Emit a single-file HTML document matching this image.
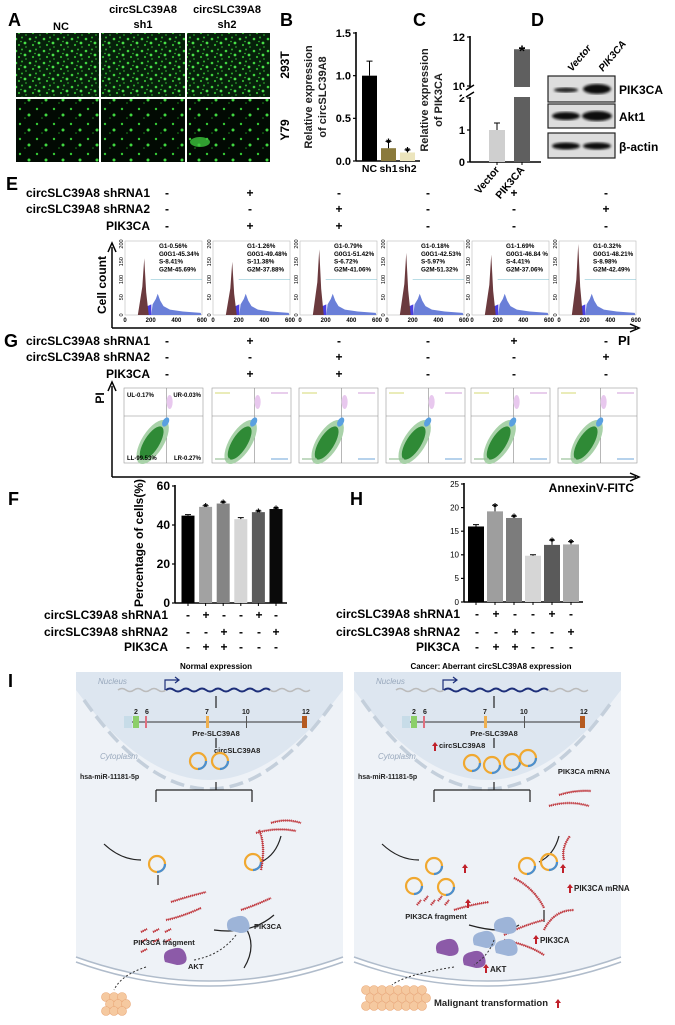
<!DOCTYPE html>
<html><head><meta charset="utf-8"><style>
html,body{margin:0;padding:0;background:#fff;}
svg{display:block;font-family:"Liberation Sans",Arial,sans-serif;}
.b{font-weight:bold;}
</style></head><body>
<svg id="fig" width="675" height="1025" viewBox="0 0 675 1025" xmlns="http://www.w3.org/2000/svg">
<defs>
<pattern id="fl1" width="14" height="12" patternUnits="userSpaceOnUse">
<rect width="14" height="12" fill="#06200a"/>
<circle cx="2" cy="3" r="1.3" fill="#3fd13f"/><circle cx="8" cy="1.5" r="1" fill="#2fb02f"/>
<circle cx="11" cy="7" r="1.4" fill="#48e048"/><circle cx="5" cy="9" r="1.1" fill="#30b530"/>
<circle cx="12" cy="11" r="0.9" fill="#2a9a2a"/><circle cx="7" cy="5.5" r="0.8" fill="#35c035"/>
</pattern>
<pattern id="fl2" width="17" height="15" patternUnits="userSpaceOnUse">
<rect width="17" height="15" fill="#020a03"/>
<circle cx="3" cy="4" r="1.2" fill="#35c835"/><circle cx="12" cy="10" r="1.5" fill="#40d840"/>
<circle cx="8" cy="13" r="0.8" fill="#1f8a1f"/>
</pattern>
<filter id="bl"><feGaussianBlur stdDeviation="1.2"/></filter>
</defs>

<g>
<text x="8" y="26" font-size="18" class="b">A</text>
<text x="61" y="30" font-size="11" class="b" text-anchor="middle">NC</text>
<text x="143" y="13" font-size="11" class="b" text-anchor="middle">circSLC39A8</text>
<text x="143" y="28" font-size="11" class="b" text-anchor="middle">sh1</text>
<text x="227" y="13" font-size="11" class="b" text-anchor="middle">circSLC39A8</text>
<text x="227" y="28" font-size="11" class="b" text-anchor="middle">sh2</text>
<rect x="16" y="33" width="83" height="64" fill="url(#fl1)"/>
<rect x="101" y="33" width="84" height="64" fill="url(#fl1)"/>
<rect x="187" y="33" width="83" height="64" fill="url(#fl1)"/>
<rect x="16" y="99" width="83" height="63" fill="url(#fl2)"/>
<rect x="101" y="99" width="84" height="63" fill="url(#fl2)"/>
<rect x="187" y="99" width="83" height="63" fill="url(#fl2)"/>
<ellipse cx="200" cy="142" rx="10" ry="5" fill="#3cc43c" opacity="0.8"/>
<text transform="translate(289,65) rotate(-90)" font-size="12" class="b" text-anchor="middle">293T</text>
<text transform="translate(289,130) rotate(-90)" font-size="12" class="b" text-anchor="middle">Y79</text>
</g>

<text x="280" y="26" font-size="18" class="b">B</text>
<text x="312" y="97" transform="rotate(-90 312 97)" font-size="11" class="b" text-anchor="middle" fill="#222">Relative expression</text>
<text x="326" y="97" transform="rotate(-90 326 97)" font-size="11" class="b" text-anchor="middle" fill="#222">of circSLC39A8</text>
<g id="chartB"></g>

<text x="413" y="26" font-size="18" class="b">C</text>
<text x="428" y="100" transform="rotate(-90 428 100)" font-size="11" class="b" text-anchor="middle" fill="#222">Relative expression</text>
<text x="442" y="100" transform="rotate(-90 442 100)" font-size="11" class="b" text-anchor="middle" fill="#222">of PIK3CA</text>
<g id="chartC"></g>

<g>
<text x="531" y="26" font-size="18" class="b">D</text>
<text transform="translate(572,72) rotate(-50)" font-size="10" class="b" font-style="italic">Vector</text>
<text transform="translate(603,72) rotate(-50)" font-size="10" class="b" font-style="italic">PIK3CA</text>
<rect x="548" y="76" width="67" height="26" fill="#ddd" stroke="#222" stroke-width="1.2"/>
<ellipse cx="566" cy="90" rx="12" ry="2.5" fill="#222" filter="url(#bl)"/>
<ellipse cx="597" cy="89" rx="14" ry="5" fill="#111" filter="url(#bl)"/>
<rect x="548" y="104" width="67" height="24" fill="#ddd" stroke="#222" stroke-width="1.2"/>
<ellipse cx="566" cy="116" rx="14" ry="4" fill="#111" filter="url(#bl)"/>
<ellipse cx="597" cy="116" rx="15" ry="5" fill="#111" filter="url(#bl)"/>
<rect x="548" y="133" width="67" height="25" fill="#ddd" stroke="#222" stroke-width="1.2"/>
<ellipse cx="566" cy="146" rx="14" ry="3.5" fill="#111" filter="url(#bl)"/>
<ellipse cx="597" cy="146" rx="14" ry="3.5" fill="#111" filter="url(#bl)"/>
<text x="619" y="94" font-size="12" class="b">PIK3CA</text>
<text x="619" y="121" font-size="12" class="b">Akt1</text>
<text x="619" y="151" font-size="12" class="b">β-actin</text>
</g>

<text x="6" y="190" font-size="18" class="b">E</text>
<g id="rowsE"></g>
<g id="hists"></g>
<text transform="translate(106,285) rotate(-90)" font-size="12" class="b" text-anchor="middle">Cell count</text>
<path d="M112,328 V247 M108,252 L112,243 L116,252" stroke="#000" stroke-width="1.5" fill="none"/>
<path d="M112,328 H636 M630,324 L639,328 L630,332" stroke="#000" stroke-width="1.5" fill="none"/>
<text x="618" y="345" font-size="13" class="b">PI</text>

<text x="4" y="347" font-size="18" class="b">G</text>
<g id="rowsG"></g>
<g id="dots"></g>
<text transform="translate(104,398) rotate(-90)" font-size="12" class="b" text-anchor="middle">PI</text>
<path d="M112,477 V386 M108,391 L112,382 L116,391" stroke="#000" stroke-width="1.5" fill="none"/>
<path d="M112,477 H636 M630,473 L639,477 L630,481" stroke="#000" stroke-width="1.5" fill="none"/>
<text x="634" y="492" font-size="12" class="b" text-anchor="end">AnnexinV-FITC</text>

<text x="8" y="505" font-size="18" class="b">F</text>
<text x="143" y="543" transform="rotate(-90 143 543)" font-size="12" class="b" text-anchor="middle">Percentage of cells(%)</text>
<g id="chartF"></g>
<g id="rowsF"></g>
<text x="350" y="505" font-size="18" class="b">H</text>
<g id="chartH"></g>
<g id="rowsH"></g>

<text x="8" y="687" font-size="18" class="b">I</text>
<text x="216" y="669" font-size="8" class="b" text-anchor="middle">Normal expression</text>
<text x="491" y="669" font-size="8" class="b" text-anchor="middle">Cancer: Aberrant circSLC39A8 expression</text>
<g id="diag"></g>
</svg>

<script>
const NS='http://www.w3.org/2000/svg';
function mk(parent,tag,attrs,text){const e=document.createElementNS(NS,tag);for(const k in attrs)e.setAttribute(k,attrs[k]);if(text!==undefined)e.textContent=text;parent.appendChild(e);return e;}

const bCats=['NC','sh1','sh2'];
const bValues=[1.0,0.15,0.10];
const bErrors=[0.17,0.08,0.03];
const bTicks=[0,0.5,1.0,1.5];
const bTickLabels=['0.0','0.5','1.0','1.5'];
const bSig=[0,1,1];

const cCats=['Vector','PIK3CA'];
const cValues=[1.0,11.5];
const cErrors=[0.22,0.03];
const cTicks=[0,1,2,10,12];
const cSig=[0,1];

const fValues=[44.8,49.3,51.0,43.0,46.6,48.2];
const fErrors=[0.5,0.6,0.7,0.8,0.6,0.5];
const fTicks=[0,20,40,60];
const fSig=[0,1,1,0,1,1];

const hValues=[16.0,19.2,17.8,9.8,12.1,12.2];
const hErrors=[0.4,1.3,0.4,0.2,1.0,0.6];
const hTicks=[0,5,10,15,20,25];
const hSig=[0,1,1,0,1,1];

const rowNames=['circSLC39A8 shRNA1','circSLC39A8 shRNA2','PIK3CA'];
const shRNA1=['-','+','-','-','+','-'];
const shRNA2=['-','-','+','-','-','+'];
const pik3ca=['-','+','+','-','-','-'];

const histStats=[
['G1-0.56%','G0G1-45.34%','S-8.41%','G2M-45.69%'],
['G1-1.26%','G0G1-49.48%','S-11.38%','G2M-37.88%'],
['G1-0.79%','G0G1-51.42%','S-6.72%','G2M-41.06%'],
['G1-0.18%','G0G1-42.53%','S-5.97%','G2M-51.32%'],
['G1-1.69%','G0G1-46.84 %','S-4.41%','G2M-37.06%'],
['G1-0.32%','G0G1-48.21%','S-8.98%','G2M-42.49%']];
const g1Peak=[160,150,185,175,170,200];

function barChart(g,o){
  const yS=o.yScale;
  mk(g,'line',{x1:o.ax,y1:yS(o.ticks[o.ticks.length-1])-1,x2:o.ax,y2:o.y0,stroke:'#000','stroke-width':1.6});
  mk(g,'line',{x1:o.ax,y1:o.y0,x2:o.xEnd,y2:o.y0,stroke:'#000','stroke-width':1.6});
  o.ticks.forEach((t,i)=>{const y=yS(t);
    mk(g,'line',{x1:o.ax-3,y1:y,x2:o.ax,y2:y,stroke:'#000','stroke-width':1.2});
    const tl=mk(g,'text',{x:o.ax-5,y:y+o.fs*0.35,'font-size':o.fs,'text-anchor':'end','font-weight':o.tb?'bold':'normal'},o.tickLabels?o.tickLabels[i]:String(t));
    
    
  });
  o.values.forEach((v,i)=>{
    const cx=o.bx+i*o.step, x=cx-o.bw/2, y=yS(v);
    const r=mk(g,'rect',{x:x,y:y,width:o.bw,height:o.y0-y,fill:o.colors[i]});
    
    
    const ey=yS(v+o.errors[i]);
    mk(g,'path',{d:`M${cx},${y} V${ey} M${cx-3},${ey} H${cx+3}`,stroke:o.errColor||'#000','stroke-width':1,fill:'none'});
    if(o.xTicks) mk(g,'line',{x1:cx,y1:o.y0,x2:cx,y2:o.y0+3,stroke:'#000','stroke-width':1});
    if(o.sig[i]){const s=mk(g,'text',{x:cx,y:ey-1+o.starFs*0.55,'font-size':o.starFs,'text-anchor':'middle','font-weight':'bold'},'*');
      
      }
  });
}

barChart(document.getElementById('chartB'),{ax:356,y0:161,xEnd:420,yScale:v=>161-v/1.5*128,ticks:bTicks,tickLabels:bTickLabels,fs:11,tb:true,
  values:bValues,errors:bErrors,colors:['#000','#8a7a3c','#ece5bd'],bx:369.5,step:19,bw:15,sig:bSig,starFs:12});
bCats.forEach((c,i)=>{const t=mk(document.getElementById('chartB'),'text',{x:369.5+i*19,y:172,'font-size':10.5,'text-anchor':'middle','font-weight':'bold'},c);
  
  });

(function(){
  const g=document.getElementById('chartC');
  const yS=v=> v<=2 ? 162-v*32 : 86-(v-10)*24.5;
  barChart(g,{ax:470,y0:162,xEnd:541,yScale:yS,ticks:cTicks,fs:11,tb:true,values:cValues,errors:cErrors,
    colors:['#cfcfcf','#5f5f5f'],bx:497,step:25,bw:16,sig:cSig,starFs:16,xTicks:true});
  mk(g,'rect',{x:462,y:87,width:80,height:10,fill:'#fff'});
  mk(g,'path',{d:'M466,90 L474,85 M466,97 L474,92',stroke:'#000','stroke-width':1.4});
  cCats.forEach((c,i)=>{const t=mk(g,'text',{transform:`translate(${500+i*25},170) rotate(-50)`,'font-size':10.5,'text-anchor':'end','font-weight':'bold'},c);
    
    });
})();

barChart(document.getElementById('chartF'),{ax:175,y0:603,xEnd:287,yScale:v=>603-v/60*117,ticks:fTicks,fs:12,tb:true,
  values:fValues,errors:fErrors,colors:['#000','#a2a2a2','#858585','#d6d6d6','#5c5c5c','#0a0a0a'],bx:188,step:17.6,bw:13,sig:fSig,starFs:11,xTicks:true});
barChart(document.getElementById('chartH'),{ax:464,y0:602,xEnd:583,yScale:v=>602-v/25*118,ticks:hTicks,fs:8,tb:false,
  values:hValues,errors:hErrors,colors:['#000','#9e9e9e','#7c7c7c','#d6d6d6','#5a5a5a','#ababab'],bx:476,step:19,bw:16,sig:hSig,starFs:11,xTicks:true});

function rows(gid,labelX,ys,xs,fs){
  const g=document.getElementById(gid);
  const sets=[shRNA1,shRNA2,pik3ca];
  rowNames.forEach((n,r)=>{
    const t=mk(g,'text',{x:labelX,y:ys[r]+4,'font-size':fs,'text-anchor':'end','font-weight':'bold'},n);
    
    
    sets[r].forEach((s,i)=>{mk(g,'text',{x:xs[i],y:ys[r]+4,'font-size':fs,'text-anchor':'middle','font-weight':'bold'},s);});
  });
}
const bigX=[167,250,339,428,514,606];
rows('rowsE',150,[193,209,226],bigX,12);
rows('rowsG',150,[341,357,374],bigX,12);
rows('rowsF',168,[615,632,647],[188,206,224,241,259,276],12);
rows('rowsH',460,[614,632,647],[477,496,515,533,552,571],12);

const boxX=[125,213,300,387,472,559];
(function(){
  const g=document.getElementById('hists');
  boxX.forEach((bx,i)=>{
    const w=77, top=244, bot=315;
    const sy=v=>bot-v/200*(bot-top), sx=v=>bx+v/600*w;
    const box=mk(g,'rect',{x:bx,y:top-3,width:w,height:bot-top+3,fill:'#fff',stroke:'#bbb','stroke-width':0.6});
    
    
    mk(g,'path',{d:`M${sx(205)},${bot} L${sx(215)},${sy(30)} L${sx(240)},${sy(45)} L${sx(255)},${sy(60)} L${sx(275)},${sy(40)} L${sx(300)},${sy(25)} L${sx(350)},${sy(15)} L${sx(450)},${sy(10)} L${sx(590)},${sy(6)} L${sx(595)},${bot}Z`,fill:'#6a7fd8'});
    mk(g,'path',{d:`M${sx(160)},${bot} L${sx(175)},${sy(25)} L${sx(205)},${sy(30)} L${sx(205)},${bot}Z`,fill:'#4a3fe0'});
    const p=g1Peak[i];
    mk(g,'path',{d:`M${sx(100)},${bot} L${sx(135)},${sy(p*0.5)} L${sx(150)},${sy(p)} L${sx(165)},${sy(p*0.4)} L${sx(185)},${bot}Z`,fill:'#6b3a3e'});
    mk(g,'line',{x1:sx(200),y1:sy(100),x2:sx(600),y2:sy(100),stroke:'#7bc','stroke-width':0.5});
    ['0','200','400','600'].forEach((t,k)=>mk(g,'text',{x:sx(k*200),y:bot+7,'font-size':6,'text-anchor':'middle','font-weight':'bold'},t));
    ['0','50','100','150','200'].forEach((t,k)=>mk(g,'text',{transform:`translate(${bx-2},${sy(k*50)}) rotate(-90)`,'font-size':5.5,'text-anchor':'middle'},t));
    histStats[i].forEach((s,k)=>mk(g,'text',{x:bx+34,y:248+k*7.8,'font-size':6.3,'font-weight':'bold'},s));
  });
})();

(function(){
  const g=document.getElementById('dots');
  boxX.forEach((bx,i)=>{
    const x=bx-1,w=79,top=388,bot=463, vx=x+w*0.54, hy=top+28;
    const box=mk(g,'rect',{x:x,y:top,width:w,height:bot-top,fill:'#fff',stroke:'#999','stroke-width':0.6});
    
    
    mk(g,'line',{x1:vx,y1:top,x2:vx,y2:bot,stroke:'#888','stroke-width':0.6});
    mk(g,'line',{x1:x,y1:hy,x2:x+w,y2:hy,stroke:'#888','stroke-width':0.6});
    mk(g,'ellipse',{cx:vx-14,cy:hy+26,rx:25,ry:11,fill:'#a9d2a9',transform:`rotate(-58 ${vx-14} ${hy+26})`});
    mk(g,'ellipse',{cx:vx-15,cy:hy+27,rx:19,ry:7.5,fill:'#2f8a36',transform:`rotate(-58 ${vx-15} ${hy+27})`});
    mk(g,'ellipse',{cx:vx-1,cy:hy+6,rx:5,ry:3,fill:'#5aa0e0',transform:`rotate(-60 ${vx-1} ${hy+6})`});
    mk(g,'ellipse',{cx:vx+3,cy:top+14,rx:3,ry:7,fill:'#e8c8ee'});
    if(i===0){
      mk(g,'text',{x:x+3,y:top+9,'font-size':6,'font-weight':'bold'},'UL-0.17%');
      mk(g,'text',{x:x+w-2,y:top+9,'font-size':6,'font-weight':'bold','text-anchor':'end'},'UR-0.03%');
      mk(g,'text',{x:x+3,y:bot-3,'font-size':6,'font-weight':'bold'},'LL-99.53%');
      mk(g,'text',{x:x+w-2,y:bot-3,'font-size':6,'font-weight':'bold','text-anchor':'end'},'LR-0.27%');
    } else {
      mk(g,'line',{x1:x+3,y1:top+5,x2:x+18,y2:top+5,stroke:'#dde08a','stroke-width':1.2});
      mk(g,'line',{x1:x+w-20,y1:top+5,x2:x+w-3,y2:top+5,stroke:'#d9b0e0','stroke-width':1.2});
      mk(g,'line',{x1:x+3,y1:bot-4,x2:x+18,y2:bot-4,stroke:'#9ac09a','stroke-width':1.2});
      mk(g,'line',{x1:x+w-20,y1:bot-4,x2:x+w-3,y2:bot-4,stroke:'#8ab8e0','stroke-width':1.2});
    }
  });
})();

(function(){
  const g=document.getElementById('diag');
  function circ(cx,cy,r){mk(g,'circle',{cx:cx,cy:cy,r:r,fill:'none',stroke:'#f0a830','stroke-width':2.2});
    mk(g,'path',{d:`M${cx+r},${cy} A${r},${r} 0 0 1 ${cx},${cy+r}`,fill:'none',stroke:'#4a8fd0','stroke-width':2.2});}
  function rna(d){mk(g,'path',{d:d,fill:'none',stroke:'#c0393f','stroke-width':2.4,'stroke-dasharray':'1 1'});mk(g,'path',{d:d,fill:'none',stroke:'#c0393f','stroke-width':0.8});}
  function arr(d){mk(g,'path',{d:d,fill:'none',stroke:'#222','stroke-width':1.2});}
  function blob(cx,cy,c){mk(g,'path',{d:`M${cx-10},${cy+5} Q${cx-14},${cy-6} ${cx-3},${cy-8} Q${cx+8},${cy-12} ${cx+11},${cy-2} Q${cx+14},${cy+8} ${cx+2},${cy+8} Z`,fill:c});}
  function txt(x,y,s,o){const a=Object.assign({x:x,y:y,'font-size':7.5,'font-weight':'bold',fill:'#222'},o||{});return mk(g,'text',a,s);}
  function upArr(x,y){mk(g,'path',{d:`M${x},${y} v-5 h-2 l3,-4 l3,4 h-2 v5z`,fill:'#c0202a'});}
  [0,278].forEach((dx,p)=>{
    const L=76+dx,R=343+dx,C=(L+R)/2;
    mk(g,'rect',{x:L,y:672,width:R-L,height:353,fill:'#fff'});
    mk(g,'path',{d:`M${L},672 H${R} V957 Q${C},1005 ${L},957 Z`,fill:'#eef2f7'});
    mk(g,'path',{d:`M${L},672 H${R} V690 Q${C},870 ${L},690 Z`,fill:'#dde6f0'});
    mk(g,'path',{d:`M${L+8},700 Q${C},878 ${R-8},700`,fill:'none',stroke:'#c4cfdb','stroke-width':3.5,'stroke-dasharray':'14 6'});
    mk(g,'path',{d:`M${L},957 Q${C},1005 ${R},957`,fill:'none',stroke:'#b0bccb','stroke-width':1.5});
    mk(g,'path',{d:`M${L},962 Q${C},1010 ${R},962`,fill:'none',stroke:'#b0bccb','stroke-width':1.5});
    txt(L+22,684,'Nucleus',{'font-style':'italic',fill:'#98a8bc','font-weight':'normal','font-size':8});
    txt(L+24,759,'Cytoplasm',{'font-style':'italic',fill:'#98a8bc','font-weight':'normal','font-size':8});
    mk(g,'path',{d:`M${L+42},690 q4,-3 8,0 t8,0 t8,0 t8,0 t8,0 t8,0 t8,0 t8,0 t8,0 t8,0 t8,0 t8,0 t8,0 t8,0 t8,0 t8,0 t8,0 t8,0 t8,0 t8,0 t8,0 t8,0 t8,0 t8,0`,fill:'none',stroke:'#bbb','stroke-width':1.5});
    mk(g,'path',{d:`M${L+90},690 q4,-3 8,0 t8,0 t8,0 t8,0 t8,0 t8,0 t8,0 t8,0 t8,0 t8,0 t8,0 t8,0 t8,0`,fill:'none',stroke:'#1d2f7a','stroke-width':2});
    mk(g,'path',{d:`M${L+89},690 V680 H${L+102} M${L+99},677 l4,3 l-4,3`,fill:'none',stroke:'#1d2f7a','stroke-width':1.2});
    arr(`M${L+140},696 V708`);
    mk(g,'line',{x1:L+50,y1:722,x2:L+230,y2:722,stroke:'#333','stroke-width':1});
    mk(g,'rect',{x:L+48,y:716,width:8,height:12,fill:'#c7dce8'});
    mk(g,'rect',{x:L+57,y:716,width:6,height:12,fill:'#8ccf6a'});
    mk(g,'rect',{x:L+69,y:716,width:2,height:12,fill:'#e07080'});
    mk(g,'rect',{x:L+130,y:716,width:3,height:12,fill:'#f0b050'});
    mk(g,'rect',{x:L+170,y:716,width:1,height:12,fill:'#555'});
    mk(g,'rect',{x:L+226,y:716,width:5,height:12,fill:'#b55a20'});
    txt(L+58,714,'2',{'font-size':7});txt(L+69,714,'6',{'font-size':7});txt(L+129,714,'7',{'font-size':7});txt(L+166,714,'10',{'font-size':7});txt(L+226,714,'12',{'font-size':7});
    txt(L+140,736,'Pre-SLC39A8',{'text-anchor':'middle'});
    arr(`M${L+140},738 V748`);
    arr(`M${L+140},790 V782 M${L+140},782 V790 M${L+80},790 H${L+176} M${L+80},790 V802 M${L+176},790 V802`);
    txt(L+4,779,'hsa-miR-11181-5p',{'font-size':7});
    arr(`M${L+28},844 Q${L+45},860 ${L+65},860`);
    arr(`M${L+205},836 Q${L+200},855 ${L+185},862`);
    if(p===0){
      txt(L+138,753,'circSLC39A8');
      circ(L+122,761,8);circ(L+144,761,8);
      circ(L+81,864,8);circ(L+177,862,8);
      rna(`M${L+195},823 q15,-5 30,0`);rna(`M${L+180},833 q20,-6 40,-2`);rna(`M${L+185},870 q5,-25 -2,-40`);
      arr(`M${L+82},875 V885`);
      rna(`M${L+95},902 q15,-5 35,-10`);rna(`M${L+90},920 q15,-3 35,-12`);
      rna(`M${L+165},910 q15,-5 30,-12`);
      arr(`M${L+138},930 Q${L+175},935 ${L+198},915`);
      arr(`M${L+168},925 Q${L+182},945 ${L+168},968`);
      for(let k=0;k<7;k++)rna(`M${L+65+(k%3)*12},${932+Math.floor(k/3)*10} l6,-3`);
      blob(L+162,925,'#9db4d8');
      txt(L+178,929,'PIK3CA');
      txt(L+88,945,'PIK3CA fragment',{'text-anchor':'middle'});
      blob(L+99,957,'#8c5aa8');
      txt(L+112,969,'AKT');
      mk(g,'path',{d:`M${L+160},935 Q${L+145},955 ${L+118},960`,fill:'none',stroke:'#333','stroke-width':1,'stroke-dasharray':'2 2'});
      mk(g,'path',{d:`M${L+70},967 Q${L+45},975 ${L+38},990`,fill:'none',stroke:'#333','stroke-width':1,'stroke-dasharray':'2 2'});
      for(let k=0;k<9;k++)mk(g,'circle',{cx:L+30+(k%3)*8+(Math.floor(k/3)%2)*4,cy:997+Math.floor(k/3)*7,r:4.5,fill:'#f5c9a0',stroke:'#e9a777','stroke-width':0.6});
    } else {
      upArr(L+80,751);
      txt(L+85,748,'circSLC39A8');
      circ(L+118,763,8);circ(L+138,765,8);circ(L+158,762,8);circ(L+174,758,8);
      txt(L+230,774,'PIK3CA mRNA',{'text-anchor':'middle'});
      rna(`M${L+205},795 q15,-5 32,-4`);rna(`M${L+195},806 q20,-6 40,0`);
      circ(L+80,866,8);circ(L+60,886,8);circ(L+92,887,8);
      circ(L+173,866,8);circ(L+195,862,8);
      upArr(L+110,873);upArr(L+208,873);
      rna(`M${L+160},878 q20,10 30,30`);rna(`M${L+210},860 q-3,-12 6,-24`);
      arr(`M${L+190},910 V922`);
      rna(`M${L+150},935 q20,-10 40,-15`);rna(`M${L+150},940 q25,5 40,15`);rna(`M${L+190},930 q10,-20 30,-20`);
      upArr(L+215,893);
      txt(L+220,891,'PIK3CA mRNA',{'font-size':8});
      rna(`M${L+100},910 q15,-5 35,-8`);
      arr(`M${L+115},925 Q${L+150},935 ${L+165},925`);
      for(let k=0;k<5;k++)rna(`M${L+63+k*7},${905-(k%2)*4} l4,-5`);
      upArr(L+113,908);
      txt(L+82,919,'PIK3CA fragment',{'text-anchor':'middle'});
      blob(L+151,926,'#9db4d8');blob(L+130,940,'#9db4d8');blob(L+152,948,'#9db4d8');
      upArr(L+181,944);
      txt(L+186,943,'PIK3CA',{'font-size':8});
      blob(L+93,948,'#8c5aa8');blob(L+120,960,'#8c5aa8');
      upArr(L+131,973);
      txt(L+136,972,'AKT',{'font-size':8});
      mk(g,'path',{d:`M${L+140},940 Q${L+135},955 ${L+120},965`,fill:'none',stroke:'#333','stroke-width':1,'stroke-dasharray':'2 2'});
      mk(g,'path',{d:`M${L+100},967 Q${L+50},975 ${L+38},985`,fill:'none',stroke:'#333','stroke-width':1,'stroke-dasharray':'2 2'});
      for(let k=0;k<24;k++)mk(g,'circle',{cx:L+12+(k%8)*8+(Math.floor(k/8)%2)*4,cy:990+Math.floor(k/8)*8,r:4.5,fill:'#f5c9a0',stroke:'#e9a777','stroke-width':0.6});
      const mt=txt(L+80,1006,'Malignant transformation',{'font-size':9.5});
      
      
      upArr(L+203,1008);
    }
  });
})();
</script>
</body></html>
